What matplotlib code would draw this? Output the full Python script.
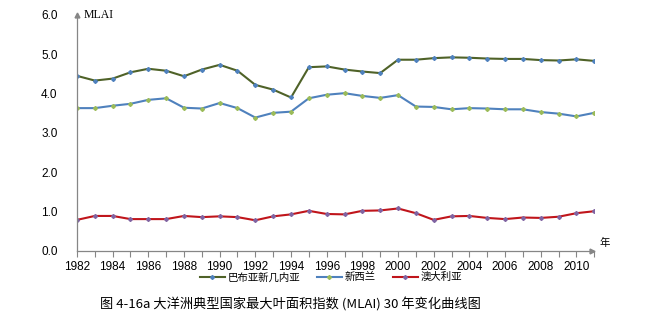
import numpy as np
import matplotlib.pyplot as plt

plt.rcParams['font.family'] = ['Liberation Sans', 'Noto Sans CJK SC', 'DejaVu Sans']

years = np.arange(1982, 2012)
png = [4.45, 4.33, 4.38, 4.54, 4.63, 4.58, 4.44, 4.61, 4.73, 4.58,
       4.22, 4.10, 3.90, 4.67, 4.69, 4.61, 4.56, 4.52, 4.86, 4.86,
       4.90, 4.92, 4.91, 4.89, 4.88, 4.88, 4.85, 4.84, 4.87, 4.83]
nz = [3.63, 3.63, 3.69, 3.74, 3.84, 3.88, 3.64, 3.62, 3.76, 3.63,
      3.39, 3.51, 3.54, 3.88, 3.97, 4.01, 3.94, 3.89, 3.96, 3.67,
      3.66, 3.60, 3.63, 3.62, 3.60, 3.60, 3.53, 3.49, 3.42, 3.51]
aus = [0.79, 0.89, 0.89, 0.81, 0.81, 0.81, 0.89, 0.86, 0.88, 0.86,
       0.78, 0.88, 0.93, 1.02, 0.94, 0.93, 1.02, 1.03, 1.08, 0.96,
       0.79, 0.88, 0.89, 0.84, 0.81, 0.85, 0.84, 0.87, 0.96, 1.01]
names = ['巴布亚新几内亚', '新西兰', '澳大利亚']
yticks = np.arange(0, 6.01, 1.0)

fig = plt.figure(figsize=(6.49, 3.23), dpi=100)
ax = fig.add_axes([0.1186, 0.223, 0.797, 0.731])

ax.plot(years, png, color='#4F6228', lw=1.5, marker='D', ms=2,
        mfc='#4F81BD', mec='#4F81BD', label=names[0])
ax.plot(years, nz, color='#4F81BD', lw=1.5, marker='D', ms=2,
        mfc='#9BBB59', mec='#9BBB59', label=names[1])
ax.plot(years, aus, color='#C0151B', lw=1.5, marker='D', ms=2,
        mfc='#8064A2', mec='#8064A2', label=names[2])

ax.set_xlim(1982, 2011)
ax.set_ylim(0, 6)
ax.set_yticks(yticks)
ax.set_yticklabels(['%.1f' % v for v in yticks])
ax.set_xticks(years)
ax.set_xticklabels([str(y) if (y - 1982) % 2 == 0 else '' for y in years])
ax.tick_params(axis='y', length=0, pad=14, labelsize=8.5)
ax.tick_params(axis='x', length=4, color='#868686', pad=3, labelsize=8.5)

for s in ['top', 'right']:
    ax.spines[s].set_visible(False)
for s in ['left', 'bottom']:
    ax.spines[s].set_color('#868686')
    ax.spines[s].set_linewidth(0.9)

# axis arrows
ax.plot([1982], [6], marker='^', ms=3.5, color='#868686', clip_on=False)
ax.plot([2010.9], [0], marker='>', ms=3.5, color='#868686', clip_on=False)

ax.text(1982.4, 6, 'MLAI', fontsize=8.5, family='Liberation Serif', va='center', ha='left')
ax.text(2011.3, 0.2, '年', fontsize=7.5, va='center', ha='left',
        family=['Noto Sans CJK SC', 'DejaVu Sans'])

fig.legend(loc='center', bbox_to_anchor=(0.51, 0.142), ncol=3, frameon=False,
           prop={'family': ['Noto Sans CJK SC', 'DejaVu Sans'], 'size': 7.5},
           handlelength=2.4, handletextpad=0.3, columnspacing=1.6)

fig.text(0.447, 0.056, '图 4-16a 大洋洲典型国家最大叶面积指数 (MLAI) 30 年变化曲线图',
         ha='center', va='center', fontsize=9.5,
         family=['Noto Sans CJK SC', 'DejaVu Sans'])

fig.savefig('out.png', dpi=100)
